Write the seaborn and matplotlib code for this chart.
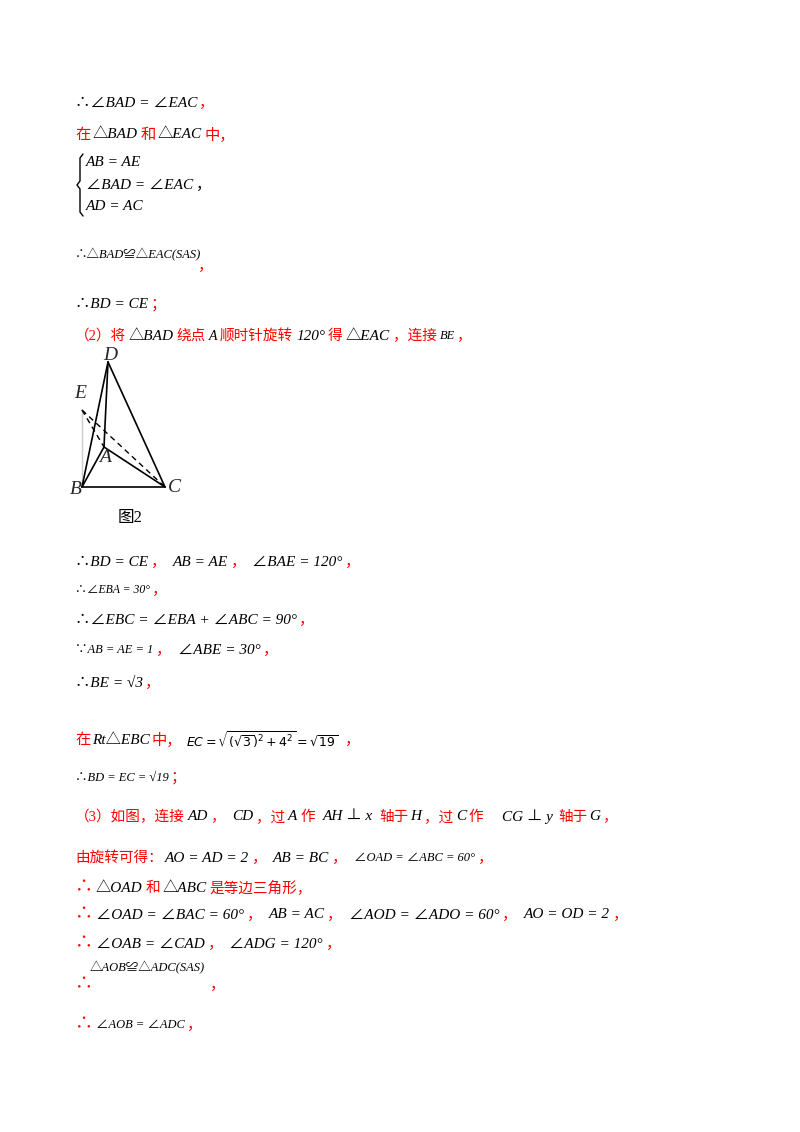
import matplotlib
matplotlib.use("Agg")
import matplotlib.pyplot as plt
import seaborn as sns

sns.set_theme(style="white")
plt.rcParams["font.family"] = ["Liberation Serif", "Noto Sans CJK SC", "DejaVu Sans"]

W, H = 800, 1132
RED = "#ff0000"
K = "black"

# text lines: (y, x_start, [(text, color, size, gap_before)])
LINES = [
    (103, 75, [("∴∠BAD = ∠EAC", K, 11, 0), ("，", RED, 11, 2)]),
    (135, 75, [("在", RED, 11, 0), ("△BAD", K, 11, 2), ("和", RED, 11, 3), ("△EAC", K, 11, 2), ("中，", RED, 11, 3)]),
    (162, 86, [("AB = AE", K, 11, 0)]),
    (185, 86, [("∠BAD = ∠EAC", K, 11, 0), ("，", K, 11, 3)]),
    (207, 86, [("AD = AC", K, 11, 0)]),
    (255, 75, [("∴△BAD≌△EAC(SAS)", K, 9, 0)]),
    (266, 198, [("，", RED, 11, 0)]),
    (305, 75, [("∴BD = CE", K, 11, 0), ("；", RED, 11, 3)]),
    (336, 75, [("（2）将", RED, 10.5, 0), ("△BAD", K, 11, 2), ("绕点", RED, 10.5, 3), ("A", K, 10, 3),
               ("顺时针旋转", RED, 10.5, 3), ("120°", K, 11, 3), ("得", RED, 10.5, 3), ("△EAC", K, 11, 3),
               ("，连接", RED, 10.5, 3), ("BE", K, 9, 3), ("，", RED, 10.5, 2)]),
    (518, 118, [("图2", K, 12, 0)]),
    (562, 75, [("∴BD = CE", K, 11, 0), ("，", RED, 11, 3), ("AB = AE", K, 11, 6), ("，", RED, 11, 3),
               ("∠BAE = 120°", K, 11, 6), ("，", RED, 11, 3)]),
    (590, 75, [("∴∠EBA = 30°", K, 8.5, 0), ("，", RED, 11, 2)]),
    (620, 75, [("∴∠EBC = ∠EBA + ∠ABC = 90°", K, 11, 0), ("，", RED, 11, 2)]),
    (650, 75, [("∵AB = AE = 1", K, 9, 0), ("，", RED, 11, 3), ("∠ABE = 30°", K, 11, 6), ("，", RED, 11, 3)]),
    (683, 75, [("∴BE = √3", K, 11, 0), ("，", RED, 11, 2)]),
    (740, 75, [("在", RED, 11, 0), ("Rt△EBC", K, 11, 2), ("中，", RED, 11, 2),
               (r"$EC=\sqrt{(\sqrt{3})^2+4^2}=\sqrt{19}$", K, 9, 4), ("，", RED, 11, 6)]),
    (778, 75, [("∴BD = EC = √19", K, 9, 0), ("；", RED, 11, 2)]),
    (817, 75, [("（3）如图，连接", RED, 10.5, 0), ("AD", K, 11, 3), ("，", RED, 10.5, 3), ("CD", K, 11, 6),
               ("，过", RED, 10.5, 3), ("A", K, 11, 3), ("作", RED, 10.5, 3), ("AH ⊥ x", K, 11, 8),
               ("轴于", RED, 10.5, 6), ("H", K, 11, 2), ("，过", RED, 10.5, 2), ("C", K, 11, 3),
               ("作", RED, 10.5, 3), ("CG ⊥ y", K, 11, 18), ("轴于", RED, 10.5, 6), ("G", K, 11, 2), ("，", RED, 10.5, 2)]),
    (858, 75, [("由旋转可得：", RED, 10.5, 0), ("AO = AD = 2", K, 11, 2), ("，", RED, 11, 3), ("AB = BC", K, 11, 6),
               ("，", RED, 11, 3), ("∠OAD = ∠ABC = 60°", K, 9, 6), ("，", RED, 11, 3)]),
    (888, 75, [("∴", RED, 13, 0), ("△OAD", K, 11, 3), ("和", RED, 10.5, 3), ("△ABC", K, 11, 2), ("是等边三角形，", RED, 10.5, 3)]),
    (915, 75, [("∴", RED, 13, 0), ("∠OAD = ∠BAC = 60°", K, 11, 3), ("，", RED, 11, 3), ("AB = AC", K, 11, 6),
               ("，", RED, 11, 3), ("∠AOD = ∠ADO = 60°", K, 11, 6), ("，", RED, 11, 3),
               ("AO = OD = 2", K, 11, 6), ("，", RED, 11, 3)]),
    (944, 75, [("∴", RED, 13, 0), ("∠OAB = ∠CAD", K, 11, 3), ("，", RED, 11, 3), ("∠ADG = 120°", K, 11, 6), ("，", RED, 11, 3)]),
    (968, 90, [("△AOB≌△ADC(SAS)", K, 9, 0)]),
    (985, 75, [("∴", RED, 13, 0)]),
    (985, 210, [("，", RED, 11, 0)]),
    (1025, 75, [("∴", RED, 13, 0), ("∠AOB = ∠ADC", K, 9, 3), ("，", RED, 11, 2)]),
]

# brace of the equation system
BRACE_X = [83, 80, 80, 77, 80, 80, 83]
BRACE_Y = [154, 158, 181, 185, 189, 212, 216]

# geometry figure (pixel coordinates)
PTS = {"D": (108, 362), "E": (82, 410), "A": (104, 447), "B": (82, 487), "C": (165, 487)}
SOLID = [("B", "C"), ("B", "D"), ("D", "C"), ("A", "C"), ("A", "D"), ("A", "B")]
DASHED = [("E", "B"), ("E", "C"), ("E", "A")]
LABELS = {"D": (103, 364), "E": (74, 402), "A": (99, 458), "B": (70, 490), "C": (168, 487)}

fig = plt.figure(figsize=(8, 11.32), dpi=100)
ax = fig.add_axes([0, 0, 1, 1])
ax.set_xlim(0, W)
ax.set_ylim(H, 0)
ax.axis("off")
renderer = fig.canvas.get_renderer()

for y, x, parts in LINES:
    for txt, col, sz, gap in parts:
        x += gap
        is_cjk = col == RED or txt.startswith("$") or txt.startswith("图")
        t = ax.text(x, y, txt, color=col, fontsize=sz, va="center", ha="left",
                    style="normal" if is_cjk else "italic")
        bb = t.get_window_extent(renderer)
        x += bb.width  # dpi 100 -> pixels equal data units on x

ax.plot(BRACE_X, BRACE_Y, color=K, lw=1.0)

for a, b in SOLID:
    sns.lineplot(x=[PTS[a][0], PTS[b][0]], y=[PTS[a][1], PTS[b][1]], ax=ax, color=K, lw=1.2, sort=False)
for a, b in DASHED:
    sns.lineplot(x=[PTS[a][0], PTS[b][0]], y=[PTS[a][1], PTS[b][1]], ax=ax, color=K, lw=1.0,
                 linestyle=(0, (4, 3)), sort=False)
for k, (x, y) in LABELS.items():
    ax.text(x, y, k, fontsize=14, style="italic", va="bottom" if k in "DE" else "center", ha="left")

ax.set_xlim(0, W)
ax.set_ylim(H, 0)
fig.savefig("out.png", dpi=100, facecolor="white")
